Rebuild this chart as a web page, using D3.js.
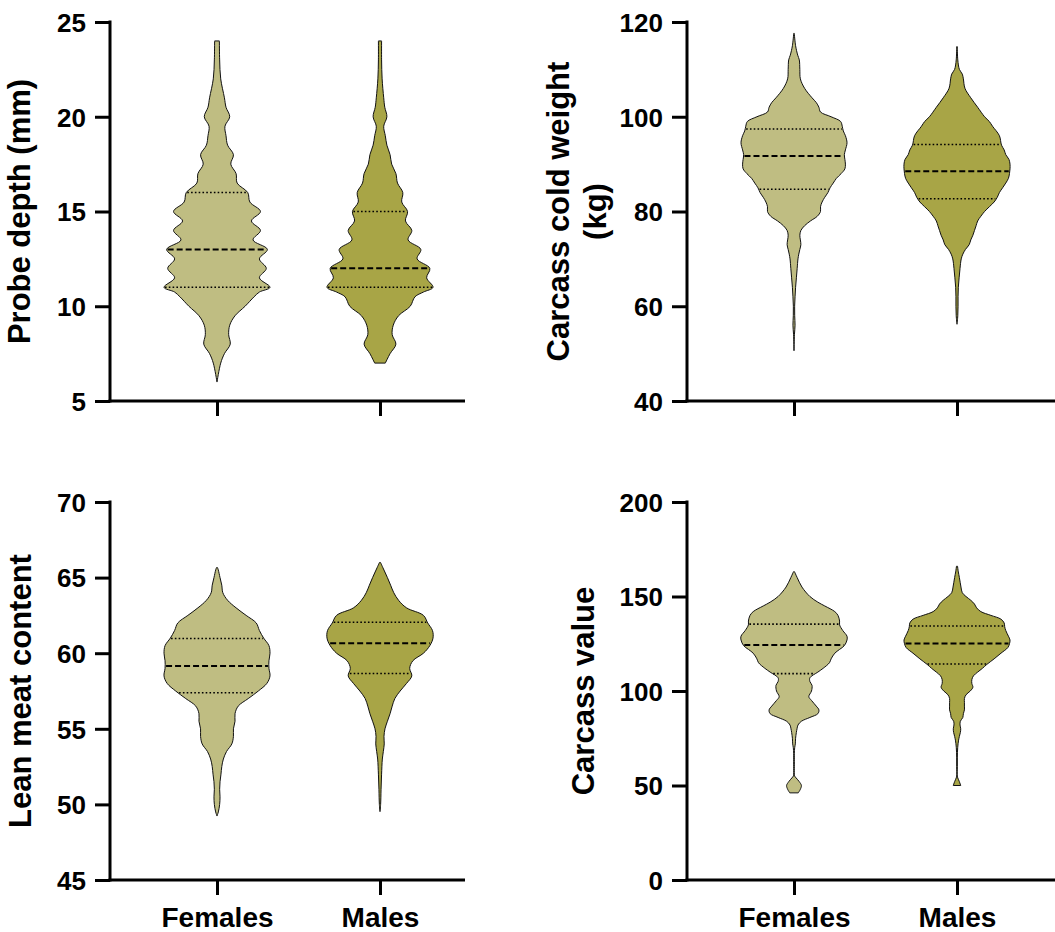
<!DOCTYPE html>
<html>
<head>
<meta charset="utf-8">
<script src="https://cdn.jsdelivr.net/npm/d3@7"></script>
<style>
  body { margin: 0; background: #ffffff; }
  svg text { font-family: "Liberation Sans", Arial, sans-serif; font-weight: bold; fill: #000; }
</style>
</head>
<body>
<svg id="chart" width="1055" height="932"></svg>
<script>
// Groups shown on every panel
const groups = ["Females", "Males"];
const groupFills = ["#bfbd82", "#a8a546"];

// Violin profiles: [value, relative density width (1 = widest point)]

// Probe depth (mm)
const probeTicks = [5, 10, 15, 20, 25];
const probeFemales = [[6, 0], [7, 0.07], [7.5, 0.14], [8, 0.25], [8.5, 0.22], [9, 0.24], [9.5, 0.34], [10, 0.53], [10.5, 0.7], [10.75, 0.8], [11, 1.0], [11.5, 0.8], [12, 0.93], [12.5, 0.8], [13, 0.95], [13.5, 0.68], [14, 0.82], [14.5, 0.65], [15, 0.82], [15.5, 0.62], [16, 0.58], [16.5, 0.38], [17, 0.36], [17.5, 0.26], [18, 0.31], [18.5, 0.2], [19, 0.17], [19.5, 0.15], [20, 0.24], [20.5, 0.17], [21, 0.14], [22, 0.07], [23, 0.05], [24, 0.045]];
const probeMales = [[7, 0.1], [7.5, 0.19], [8, 0.3], [8.5, 0.23], [9, 0.25], [9.5, 0.35], [10, 0.57], [10.5, 0.66], [10.75, 0.82], [11, 1.0], [11.5, 0.88], [12, 0.94], [12.5, 0.7], [13, 0.77], [13.5, 0.53], [14, 0.6], [14.5, 0.48], [15, 0.52], [15.5, 0.41], [16, 0.43], [16.5, 0.33], [17, 0.3], [17.5, 0.22], [18, 0.19], [18.5, 0.13], [19, 0.1], [19.5, 0.07], [20, 0.13], [20.5, 0.09], [21, 0.07], [22, 0.04], [23, 0.03], [24, 0.03]];
const probeQuartFemales = [11, 13, 16];
const probeQuartMales = [11, 12, 15];

// Carcass cold weight (kg)
const weightTicks = [40, 60, 80, 100, 120];
const weightFemales = [[50.6, 0], [54, 0.008], [56, 0.02], [58, 0.013], [60, 0.012], [62, 0.02], [64, 0.03], [66, 0.045], [68, 0.06], [70, 0.075], [71, 0.09], [72, 0.11], [73, 0.13], [74, 0.12], [75, 0.11], [76, 0.13], [77, 0.2], [78, 0.31], [79, 0.44], [80, 0.5], [81, 0.5], [82, 0.53], [83, 0.58], [84, 0.64], [85, 0.68], [86, 0.74], [87, 0.8], [88, 0.89], [89, 0.96], [90, 0.97], [91, 0.96], [92, 0.95], [93, 0.97], [94.5, 1.0], [96, 0.97], [97, 0.93], [98, 0.91], [99, 0.88], [100, 0.7], [101, 0.5], [102, 0.47], [103, 0.42], [104, 0.34], [106, 0.2], [108, 0.12], [110, 0.11], [112, 0.1], [113, 0.07], [115, 0.03], [117.6, 0.005]];
const weightMales = [[56.2, 0], [58, 0.015], [60, 0.02], [62, 0.02], [64, 0.025], [66, 0.04], [68, 0.057], [70, 0.08], [71, 0.11], [72, 0.16], [73, 0.23], [74, 0.26], [75, 0.3], [76, 0.33], [77, 0.36], [78, 0.39], [79, 0.45], [80, 0.52], [81, 0.61], [82, 0.7], [83, 0.76], [84, 0.8], [85, 0.86], [86, 0.92], [87, 0.97], [88, 0.99], [89, 1.0], [90, 1.0], [91, 0.98], [92, 0.92], [93, 0.89], [94, 0.84], [96, 0.8], [98, 0.67], [99, 0.61], [100, 0.52], [102, 0.39], [104, 0.26], [106, 0.15], [108, 0.12], [109, 0.1], [110, 0.045], [112, 0.015], [114.8, 0.005]];
const weightQuartFemales = [84.7, 91.7, 97.4];
const weightQuartMales = [82.7, 88.5, 94.15];

// Lean meat content
const leanTicks = [45, 50, 55, 60, 65, 70];
const leanFemales = [[49.23, 0], [49.5, 0.025], [50, 0.05], [50.5, 0.057], [51, 0.05], [51.5, 0.057], [52, 0.075], [52.5, 0.09], [53, 0.12], [53.5, 0.18], [54, 0.28], [54.5, 0.31], [55, 0.31], [55.5, 0.34], [56, 0.34], [56.5, 0.4], [57, 0.59], [57.5, 0.78], [58, 0.94], [58.5, 1.0], [59, 0.98], [59.5, 0.98], [60, 1.0], [60.5, 0.98], [61, 0.88], [61.5, 0.8], [62, 0.74], [62.5, 0.55], [63, 0.36], [63.5, 0.2], [64, 0.11], [64.5, 0.09], [65, 0.057], [65.5, 0.025], [65.66, 0.01]];
const leanMales = [[49.52, 0], [50, 0.012], [51, 0.02], [52, 0.03], [53, 0.044], [53.5, 0.063], [54, 0.08], [54.5, 0.075], [55, 0.094], [55.5, 0.14], [56, 0.19], [56.5, 0.23], [57, 0.28], [57.5, 0.38], [58, 0.5], [58.5, 0.6], [59, 0.56], [59.5, 0.62], [60, 0.82], [60.5, 0.94], [61, 1.0], [61.5, 0.99], [62, 0.9], [62.5, 0.82], [63, 0.5], [63.5, 0.35], [64, 0.26], [64.5, 0.2], [65, 0.14], [65.5, 0.075], [66, 0.01]];
const leanQuartFemales = [57.38, 59.16, 60.97];
const leanQuartMales = [58.66, 60.66, 62.05];

// Carcass value
const valueTicks = [0, 50, 100, 150, 200];
const valueFemales = [[46.1, 0.08], [48, 0.12], [50, 0.14], [52, 0.1], [54, 0.04], [55, 0.012], [56, 0.006], [60, 0.006], [65, 0.006], [67, 0.006], [70, 0.013], [72, 0.025], [75, 0.03], [78, 0.044], [80, 0.057], [82, 0.075], [84, 0.14], [86, 0.3], [88, 0.45], [90, 0.47], [92, 0.42], [95, 0.33], [97, 0.28], [100, 0.33], [103, 0.34], [105, 0.3], [107, 0.3], [110, 0.45], [112, 0.55], [115, 0.67], [117, 0.7], [120, 0.77], [122, 0.86], [124, 0.95], [127, 1.0], [129, 1.0], [132, 0.92], [135, 0.86], [137, 0.86], [140, 0.83], [142, 0.77], [145, 0.58], [147, 0.45], [150, 0.3], [155, 0.15], [160, 0.06], [163.1, 0.01]];
const valueMales = [[50, 0.07], [52, 0.045], [54, 0.015], [55, 0.006], [60, 0.006], [65, 0.006], [70, 0.013], [74, 0.03], [76, 0.045], [78, 0.063], [80, 0.07], [82, 0.057], [84, 0.063], [86, 0.11], [88, 0.12], [90, 0.14], [92, 0.14], [94, 0.14], [96, 0.14], [98, 0.17], [100, 0.25], [102, 0.3], [104, 0.28], [106, 0.28], [108, 0.31], [110, 0.39], [112, 0.48], [114, 0.56], [117, 0.7], [120, 0.83], [123, 0.96], [125, 0.99], [127, 1.0], [129, 0.97], [132, 0.92], [134, 0.9], [136, 0.89], [138, 0.83], [140, 0.64], [142, 0.45], [144, 0.37], [146, 0.33], [148, 0.26], [150, 0.17], [152, 0.1], [155, 0.075], [160, 0.045], [163, 0.025], [166, 0.01]];
const valueQuartFemales = [109.2, 124.4, 135.4];
const valueQuartMales = [114.3, 125.1, 134.4];

// Panel layout
const panels = [
  { title: ["Probe depth (mm)"], ticks: probeTicks, profiles: [probeFemales, probeMales],
    quartiles: [probeQuartFemales, probeQuartMales], left: 110, top: 22, width: 355, height: 379, titleX: -80, labels: false },
  { title: ["Carcass cold weight", "(kg)"], ticks: weightTicks, profiles: [weightFemales, weightMales],
    quartiles: [weightQuartFemales, weightQuartMales], left: 687, top: 22, width: 368, height: 379, titleX: -118, labels: false },
  { title: ["Lean meat content"], ticks: leanTicks, profiles: [leanFemales, leanMales],
    quartiles: [leanQuartFemales, leanQuartMales], left: 110, top: 502, width: 355, height: 378, titleX: -79, labels: true },
  { title: ["Carcass value"], ticks: valueTicks, profiles: [valueFemales, valueMales],
    quartiles: [valueQuartFemales, valueQuartMales], left: 687, top: 502, width: 368, height: 378, titleX: -93, labels: true }
];

const svg = d3.select("#chart");
const halfWidth = d3.scaleLinear().domain([0, 1]).range([0, 53]);

panels.forEach(p => {
  const g = svg.append("g").attr("transform", `translate(${p.left},${p.top})`);
  const y = d3.scaleLinear().domain(d3.extent(p.ticks)).range([p.height, 0]);
  const x = d3.scalePoint().domain(groups).range([107, 270]);

  // Violins
  groups.forEach((grp, i) => {
    const prof = p.profiles[i];
    const cx = x(grp);
    const area = d3.area()
      .y(d => y(d[0]))
      .x0(d => cx - halfWidth(d[1]))
      .x1(d => cx + halfWidth(d[1]))
      .curve(d3.curveCatmullRom.alpha(0.5));
    g.append("path")
      .attr("d", area(prof))
      .attr("fill", groupFills[i])
      .attr("stroke", "#111")
      .attr("stroke-width", 1)
      .attr("stroke-linejoin", "round");

    // Quartile lines spanning the violin at each level
    const widthAt = d3.scaleLinear().domain(prof.map(d => d[0])).range(prof.map(d => d[1]));
    p.quartiles[i].forEach((q, k) => {
      const hw = halfWidth(widthAt(q)) - 1;
      g.append("line")
        .attr("x1", cx - hw).attr("x2", cx + hw)
        .attr("y1", y(q)).attr("y2", y(q))
        .attr("stroke", "#000")
        .attr("stroke-width", k === 1 ? 2 : 1.6)
        .attr("stroke-dasharray", k === 1 ? "6,3" : "1.6,2.2");
    });
  });

  // Y axis
  const yAxis = g.append("g").call(
    d3.axisLeft(y).tickValues(p.ticks).tickSize(15).tickSizeOuter(0).tickPadding(9).tickFormat(d3.format("d"))
  );
  yAxis.select(".domain").remove();
  yAxis.selectAll(".tick line").attr("stroke", "#000").attr("stroke-width", 3);
  yAxis.selectAll(".tick text").style("font-size", "26px").attr("dy", "0.36em");
  g.append("line")
    .attr("x1", 0).attr("x2", 0).attr("y1", -1.5).attr("y2", p.height + 1.5)
    .attr("stroke", "#000").attr("stroke-width", 3);

  // X axis
  const xAxis = g.append("g").attr("transform", `translate(0,${p.height})`).call(
    d3.axisBottom(x).tickSize(15).tickSizeOuter(0).tickPadding(12)
  );
  xAxis.select(".domain").remove();
  xAxis.selectAll(".tick line").attr("stroke", "#000").attr("stroke-width", 3);
  if (p.labels) {
    xAxis.selectAll(".tick text").style("font-size", "28px");
  } else {
    xAxis.selectAll(".tick text").remove();
  }
  g.append("line")
    .attr("x1", -1.5).attr("x2", p.width).attr("y1", p.height).attr("y2", p.height)
    .attr("stroke", "#000").attr("stroke-width", 3);

  // Axis title
  const lineGap = 37;
  const t = g.append("text")
    .attr("transform", `translate(${p.titleX},${p.height / 2}) rotate(-90)`)
    .attr("text-anchor", "middle")
    .style("font-size", "31px");
  p.title.forEach((line, k) => {
    t.append("tspan").attr("x", 0).attr("y", k * lineGap).text(line);
  });
});
</script>
</body>
</html>
